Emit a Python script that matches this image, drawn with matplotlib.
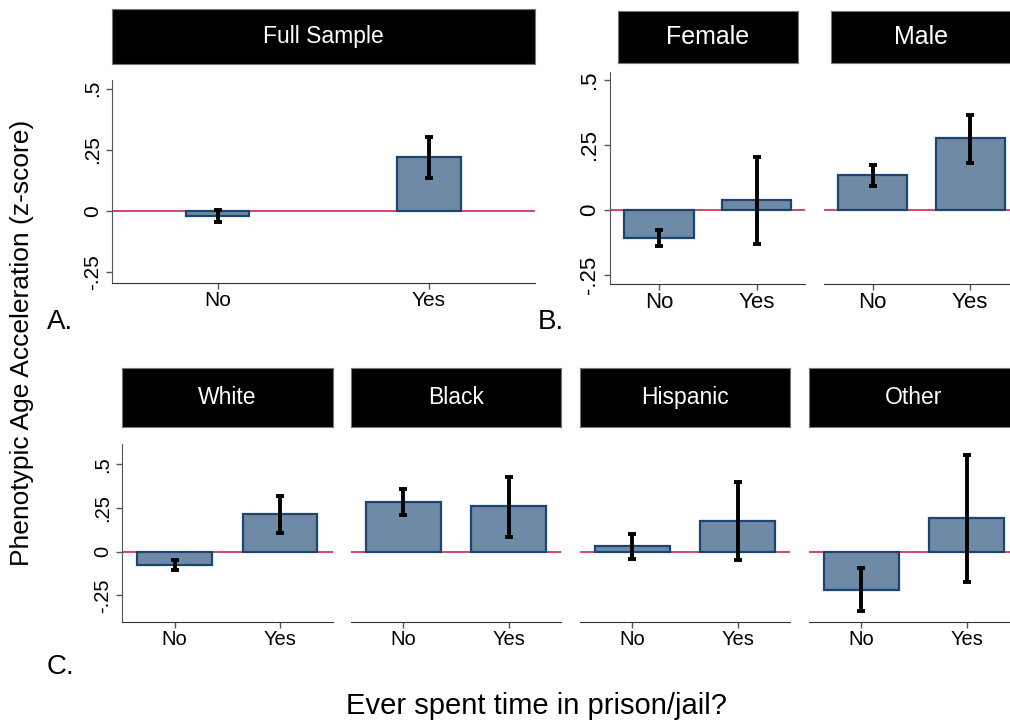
import matplotlib
matplotlib.use('Agg')
import matplotlib.pyplot as plt
import numpy as np

plt.rcParams['font.family'] = ['Liberation Sans', 'DejaVu Sans']

# data
groups = ['Full Sample', 'Female', 'Male', 'White', 'Black', 'Hispanic', 'Other']
categories = ['No', 'Yes']
means = [[-0.020, 0.219], [-0.106, 0.037], [0.135, 0.276],
         [-0.078, 0.214], [0.285, 0.260], [0.031, 0.176], [-0.218, 0.195]]
ci_low = [[-0.044, 0.137], [-0.136, -0.131], [0.094, 0.182],
          [-0.105, 0.105], [0.212, 0.086], [-0.042, -0.049], [-0.338, -0.170]]
ci_high = [[0.005, 0.302], [-0.076, 0.203], [0.173, 0.366],
           [-0.048, 0.319], [0.357, 0.428], [0.103, 0.401], [-0.093, 0.555]]
yticks = [-0.25, 0, 0.25, 0.5]
ytick_labels = ['-.25', '0', '.25', '.5']

W, H = 1010, 723
fig = plt.figure(figsize=(W / 100, H / 100), dpi=100)


def box(x0, x1, y0, y1):
    return [x0 / W, 1 - y1 / H, (x1 - x0) / W, (y1 - y0) / H]


# layout in pixels: axes box, header box, ylim, bar width, sizes, show y axis
layout = [
    ((111.8, 534.6, 80, 282.7), (111.8, 534.6, 9, 64), (-0.292, 0.535), 0.30, 15, 16.5, True),
    ((610.2, 805.4, 72, 283.7), (617.7, 798.3, 11, 63), (-0.282, 0.529), 0.71, 16, 18, True),
    ((823.8, 1019.0, 72, 283.7), (831.3, 1011.5, 11, 63), (-0.282, 0.529), 0.71, 16, 18, False),
    ((122.1, 332.7, 444.3, 621.7), (122.1, 332.7, 368, 427), (-0.40, 0.615), 0.71, 14.5, 16.5, True),
    ((350.6, 561.4, 444.3, 621.7), (350.6, 561.4, 368, 427), (-0.40, 0.615), 0.71, 14.5, 16.5, False),
    ((579.6, 790.4, 444.3, 621.7), (579.6, 790.4, 368, 427), (-0.40, 0.615), 0.71, 14.5, 16.5, False),
    ((808.6, 1019.4, 444.3, 621.7), (808.6, 1019.4, 368, 427), (-0.40, 0.615), 0.71, 14.5, 16.5, False),
]

x = np.arange(len(categories))
for i, name in enumerate(groups):
    axbox, hbox, ylim, bw, fs, hfs, show_y = layout[i]
    ax = fig.add_axes(box(*axbox))
    m = np.array(means[i])
    lo = np.array(ci_low[i])
    hi = np.array(ci_high[i])
    ax.axhline(0, color='#cc1440', lw=1.1, zorder=1)
    ax.bar(x, m, width=bw, color='#6e8aa6', edgecolor='#1c4670', linewidth=1.6, zorder=2)
    ax.errorbar(x, m, yerr=[m - lo, hi - m], fmt='none', ecolor='black',
                elinewidth=2.8, capsize=3, capthick=2.8, zorder=3)
    ax.set_xlim(-0.5, 1.5)
    ax.set_ylim(*ylim)
    ax.set_xticks(x, categories, fontsize=fs)
    ax.spines['top'].set_visible(False)
    ax.spines['right'].set_visible(False)
    ax.spines['bottom'].set_color('#333333')
    ax.tick_params(axis='x', length=4, width=1, color='#555555', pad=2)
    if show_y:
        ax.set_yticks(yticks, ytick_labels, fontsize=fs, rotation=90, va='center')
        ax.spines['left'].set_color('#555555')
        ax.tick_params(axis='y', length=4, width=1, color='#555555', pad=3)
    else:
        ax.spines['left'].set_visible(False)
        ax.tick_params(axis='y', left=False, labelleft=False)

    hax = fig.add_axes(box(*hbox))
    hax.set_facecolor('black')
    hax.set_xticks([])
    hax.set_yticks([])
    for s in hax.spines.values():
        s.set_color('#777777')
        s.set_linewidth(0.8)
    hax.text(0.5, 0.5, name, color='white', fontsize=hfs, ha='center', va='center',
             transform=hax.transAxes)

fig.text(22 / W, 1 - 343 / H, 'Phenotypic Age Acceleration (z-score)', rotation=90,
         ha='center', va='center', fontsize=19)
fig.text(536 / W, 1 - 706 / H, 'Ever spent time in prison/jail?', ha='center', va='center',
         fontsize=21)
fig.text(47 / W, 1 - 322 / H, 'A.', ha='left', va='center', fontsize=20)
fig.text(538 / W, 1 - 322 / H, 'B.', ha='left', va='center', fontsize=20)
fig.text(47 / W, 1 - 667 / H, 'C.', ha='left', va='center', fontsize=20)

fig.savefig('out.png', dpi=100)
